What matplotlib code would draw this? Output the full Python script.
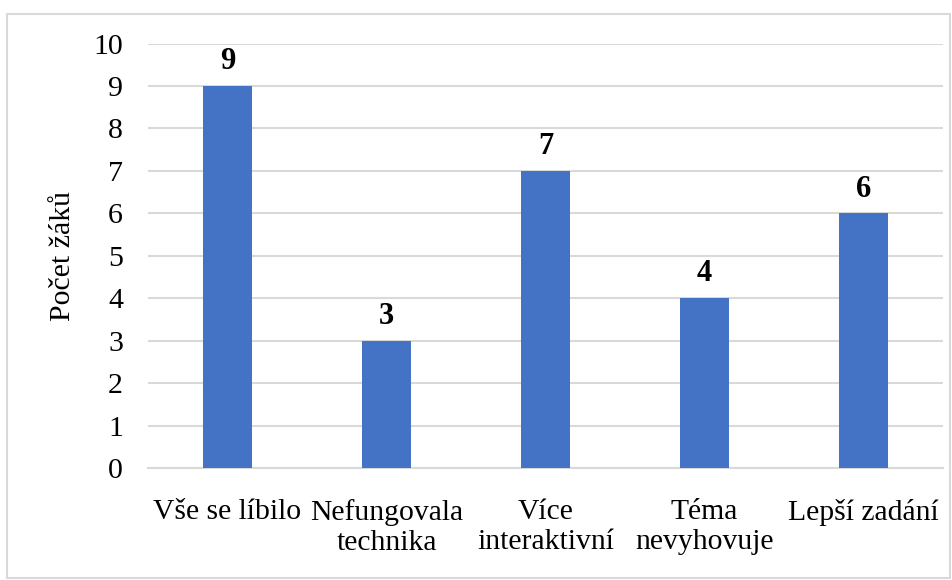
import matplotlib
matplotlib.use("Agg")
import matplotlib.pyplot as plt
from matplotlib.patches import Rectangle

categories = ["Vše se líbilo", "Nefungovala\ntechnika", "Více\ninteraktivní", "Téma\nnevyhovuje", "Lepší zadání"]
values = [9, 3, 7, 4, 6]
yticks = list(range(0, 11))

plt.rcParams['font.family'] = ['Liberation Serif', 'DejaVu Serif']

fig = plt.figure(figsize=(9.53, 5.80), dpi=100)
ax = fig.add_axes([148/953, 1-468/580, (943-148)/953, (468-43.5)/580])

x = list(range(len(categories)))
bars = ax.bar(x, values, width=0.31, color="#4472C4", zorder=3)
for xi, v in zip(x, values):
    ax.annotate(str(v), (xi, v), xytext=(0, 7), textcoords="offset points",
                ha="center", va="bottom", fontsize=22, fontweight="bold")

ax.set_xlim(-0.5, len(categories) - 0.5)
ax.set_ylim(0, 10)
ax.set_yticks(yticks)
ax.set_yticklabels([str(t) for t in yticks], fontsize=21.5)
ax.set_xticks(x)
ax.set_xticklabels(categories, fontsize=21.3, linespacing=1.2)
ax.tick_params(axis="both", length=0)
ax.tick_params(axis="x", pad=22)
ax.tick_params(axis="y", pad=18)
ax.grid(axis="y", color="#d9d9d9", linewidth=1.5, zorder=0)
for s in ["top", "right", "left"]:
    ax.spines[s].set_visible(False)
ax.spines["bottom"].set_color("#d9d9d9")
ax.spines["bottom"].set_linewidth(1.5)
ax.set_ylabel("Počet žáků", fontsize=21.5)
ax.yaxis.set_label_coords(-72/795, 0.5)

fig.patches.append(Rectangle((7/953, 1-578/580), 943/953, 564/580, transform=fig.transFigure,
                             fill=False, edgecolor="#d9d9d9", linewidth=1.5))

fig.savefig("out.png", dpi=100)
